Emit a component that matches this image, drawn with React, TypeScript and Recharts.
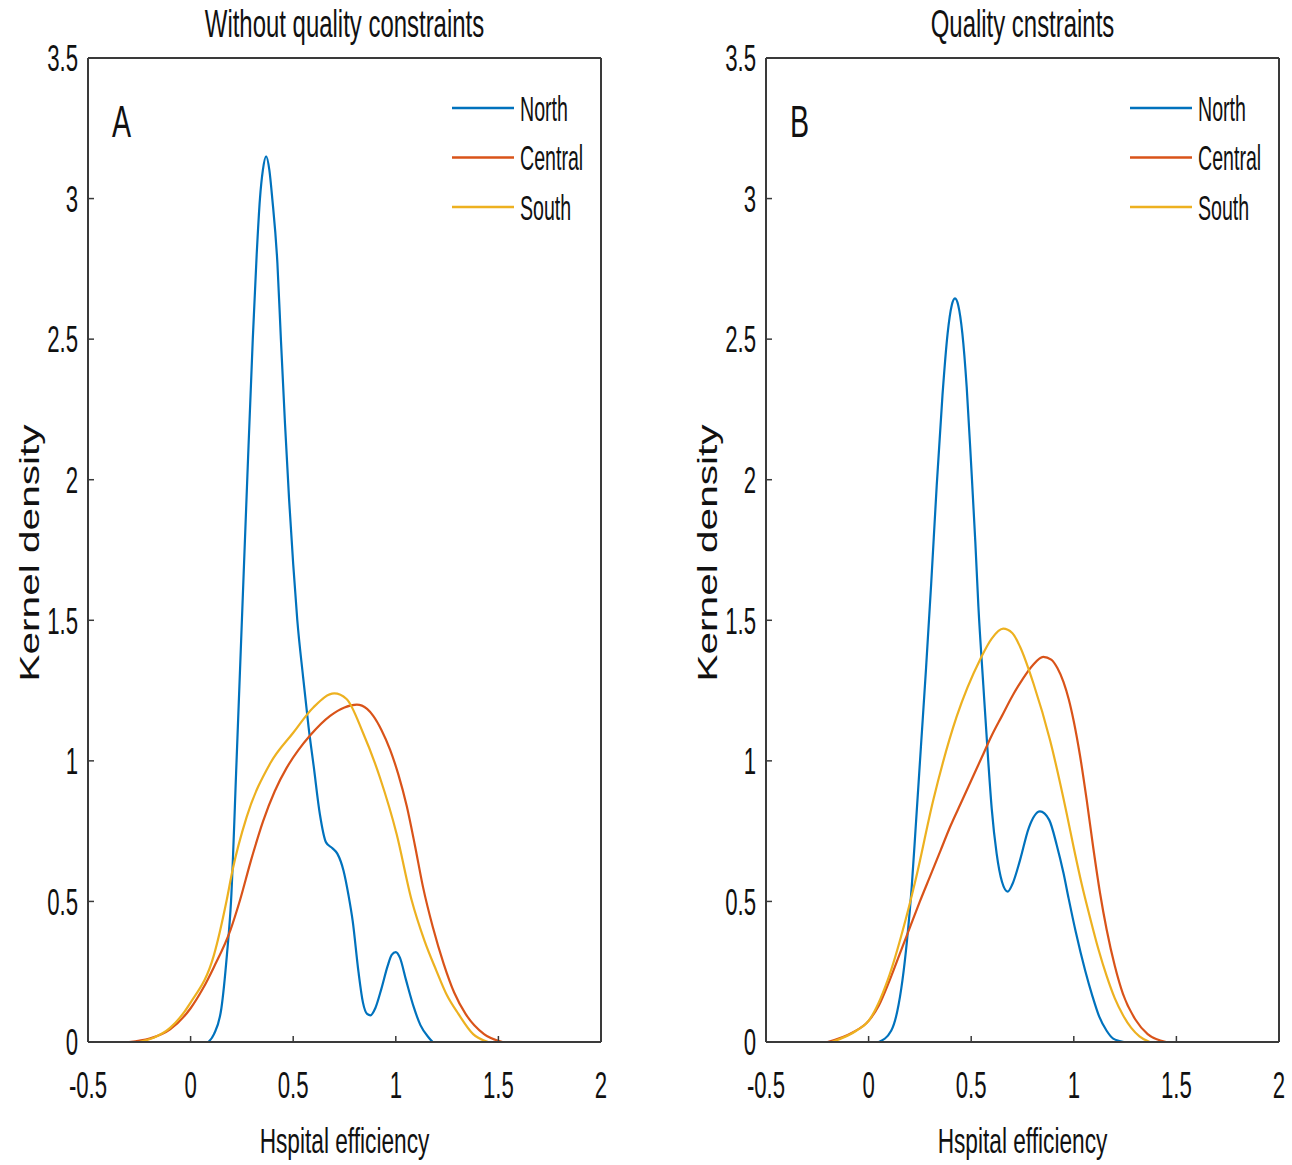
import React from 'react';
import { LineChart, Line, XAxis, YAxis } from 'recharts';

// ---------- axis definitions ----------
const xTicks = [-0.5, 0, 0.5, 1, 1.5, 2];
const yTicks = [0, 0.5, 1, 1.5, 2, 2.5, 3, 3.5];
const xDomain: [number, number] = [-0.5, 2];
const yDomain: [number, number] = [0, 3.5];

const regionNames = ['North', 'Central', 'South'];
const regionColors = ['#0072BD', '#D95319', '#EDB120'];

const panelTitles = ['Without quality constraints', 'Quality cnstraints'];
const panelLetters = ['A', 'B'];
const xLabel = 'Hspital efficiency';
const yLabel = 'Kernel density';

// ---------- series values: [efficiency, density] ----------
const northA: [number, number][] = [
  [0.087, 0], [0.114, 0.028], [0.15, 0.12], [0.177, 0.31], [0.197, 0.5], [0.224, 1.0],
  [0.25, 1.5], [0.276, 2.0], [0.303, 2.5], [0.322, 2.8], [0.338, 3.0], [0.352, 3.1],
  [0.368, 3.15], [0.384, 3.1], [0.398, 3.0], [0.423, 2.77], [0.44, 2.5], [0.46, 2.2],
  [0.48, 1.93], [0.5, 1.7], [0.52, 1.5], [0.548, 1.3], [0.575, 1.12], [0.6, 0.98],
  [0.63, 0.81], [0.66, 0.71], [0.69, 0.69], [0.715, 0.67], [0.745, 0.61], [0.77, 0.52],
  [0.79, 0.43], [0.818, 0.25], [0.84, 0.14], [0.86, 0.1], [0.877, 0.095], [0.9, 0.12],
  [0.93, 0.19], [0.96, 0.27], [0.98, 0.31], [1.0, 0.32], [1.02, 0.3], [1.05, 0.22],
  [1.088, 0.123], [1.12, 0.06], [1.16, 0.016], [1.18, 0],
];
const centralA: [number, number][] = [
  [-0.3, 0], [-0.2, 0.012], [-0.1, 0.045], [0, 0.12], [0.06, 0.19], [0.114, 0.267],
  [0.195, 0.4], [0.241, 0.505], [0.294, 0.645], [0.353, 0.785], [0.41, 0.892], [0.468, 0.975],
  [0.525, 1.038], [0.582, 1.09], [0.68, 1.16], [0.75, 1.19], [0.81, 1.2], [0.86, 1.185],
  [0.89, 1.16], [0.93, 1.11], [0.972, 1.04], [1.013, 0.95], [1.053, 0.84], [1.093, 0.7],
  [1.133, 0.55], [1.18, 0.41], [1.233, 0.279], [1.285, 0.175], [1.34, 0.1], [1.43, 0.028], [1.52, 0],
];
const southA: [number, number][] = [
  [-0.25, 0], [-0.18, 0.015], [-0.1, 0.05], [0, 0.14], [0.114, 0.31], [0.176, 0.505],
  [0.204, 0.61], [0.273, 0.8], [0.387, 0.99], [0.5, 1.1], [0.598, 1.19], [0.7, 1.24],
  [0.76, 1.22], [0.84, 1.1], [0.923, 0.94], [1.004, 0.74], [1.077, 0.505], [1.14, 0.36],
  [1.197, 0.255], [1.25, 0.165], [1.305, 0.1], [1.377, 0.028], [1.45, 0],
];

const northB: [number, number][] = [
  [0.05, 0], [0.11, 0.04], [0.14, 0.11], [0.165, 0.22], [0.187, 0.36], [0.21, 0.55],
  [0.23, 0.77], [0.255, 1.05], [0.28, 1.33], [0.305, 1.63], [0.332, 1.98], [0.36, 2.3],
  [0.385, 2.52], [0.405, 2.62], [0.421, 2.645], [0.437, 2.62], [0.457, 2.52], [0.478, 2.33],
  [0.5, 2.05], [0.52, 1.78], [0.535, 1.55], [0.559, 1.27], [0.583, 1.0], [0.6, 0.83],
  [0.624, 0.67], [0.65, 0.57], [0.678, 0.535], [0.7, 0.56], [0.738, 0.647], [0.78, 0.76],
  [0.835, 0.82], [0.88, 0.79], [0.917, 0.7], [0.95, 0.6], [0.975, 0.51], [1.01, 0.39],
  [1.055, 0.255], [1.09, 0.165], [1.124, 0.09], [1.16, 0.04], [1.192, 0.012], [1.244, 0],
];
const centralB: [number, number][] = [
  [-0.2, 0], [-0.08, 0.033], [0, 0.075], [0.05, 0.13], [0.1, 0.215], [0.15, 0.31],
  [0.2, 0.405], [0.25, 0.5], [0.3, 0.59], [0.35, 0.68], [0.4, 0.77], [0.45, 0.85],
  [0.5, 0.93], [0.55, 1.01], [0.6, 1.09], [0.65, 1.16], [0.7, 1.23], [0.75, 1.29],
  [0.8, 1.34], [0.851, 1.37], [0.89, 1.36], [0.92, 1.33], [0.95, 1.28], [0.975, 1.22],
  [1.0, 1.14], [1.03, 1.02], [1.063, 0.86], [1.095, 0.69], [1.128, 0.529], [1.16, 0.4],
  [1.2, 0.27], [1.24, 0.17], [1.3, 0.08], [1.36, 0.028], [1.45, 0],
];
const southB: [number, number][] = [
  [-0.18, 0], [-0.06, 0.04], [0, 0.075], [0.093, 0.22], [0.18, 0.434], [0.23, 0.58],
  [0.315, 0.86], [0.429, 1.157], [0.543, 1.36], [0.6, 1.435], [0.656, 1.47], [0.7, 1.455],
  [0.738, 1.406], [0.803, 1.276], [0.884, 1.074], [0.965, 0.814], [1.0, 0.69], [1.039, 0.56],
  [1.08, 0.44], [1.12, 0.33], [1.16, 0.235], [1.2, 0.155], [1.24, 0.095], [1.28, 0.05],
  [1.32, 0.02], [1.37, 0],
];

const panelSeries = [
  [northA, centralA, southA],
  [northB, centralB, southB],
];

// ---------- styling ----------
const FONT = "'Liberation Sans', Arial, sans-serif";
const AXIS = '#3a3a3a';
const TEXT = '#111111';
const CHART_W = 640;
const CHART_H = 1165;
const MARGIN = { top: 57, right: 38, bottom: 63, left: 28 };
const SX = 0.6; // condensed text look

const XTick = (props: any) => {
  const { x, y, payload } = props;
  return (
    <g transform={`translate(${x},${y}) scale(${SX},1)`}>
      <text x={0} y={0} dy="0.71em" textAnchor="middle" fontSize={37} fontFamily={FONT} fill={TEXT}>
        {String(payload.value)}
      </text>
    </g>
  );
};

const YTick = (props: any) => {
  const { x, y, payload } = props;
  return (
    <g transform={`translate(${x},${y}) scale(${SX},1)`}>
      <text x={0} y={0} dy="0.36em" textAnchor="end" fontSize={37} fontFamily={FONT} fill={TEXT}>
        {String(payload.value)}
      </text>
    </g>
  );
};

function Panel({ index, left }: { index: number; left: number }) {
  const series = panelSeries[index];
  const plotLeft = MARGIN.left + 60;
  const plotRight = CHART_W - MARGIN.right - 1;
  const cx = (plotLeft + plotRight) / 2;
  return (
    <div style={{ position: 'absolute', left, top: 0, width: CHART_W, height: CHART_H }}>
      <LineChart width={CHART_W} height={CHART_H} margin={MARGIN}>
        <XAxis
          xAxisId="b"
          type="number"
          dataKey="x"
          domain={xDomain}
          ticks={xTicks}
          interval={0}
          allowDataOverflow
          height={60}
          tickSize={-6}
          tickMargin={36}
          tick={<XTick />}
          axisLine={{ stroke: AXIS, strokeWidth: 2 }}
          tickLine={{ stroke: AXIS, strokeWidth: 1.5 }}
        />
        <XAxis
          xAxisId="t"
          orientation="top"
          type="number"
          dataKey="x"
          domain={xDomain}
          ticks={xTicks}
          interval={0}
          allowDataOverflow
          height={1}
          tickSize={-6}
          tick={false}
          axisLine={{ stroke: AXIS, strokeWidth: 2 }}
          tickLine={{ stroke: AXIS, strokeWidth: 1.5 }}
        />
        <YAxis
          yAxisId="l"
          type="number"
          domain={yDomain}
          ticks={yTicks}
          interval={0}
          allowDataOverflow
          width={60}
          tickSize={-6}
          tickMargin={16}
          tick={<YTick />}
          axisLine={{ stroke: AXIS, strokeWidth: 2 }}
          tickLine={{ stroke: AXIS, strokeWidth: 1.5 }}
        />
        <YAxis
          yAxisId="r"
          orientation="right"
          type="number"
          domain={yDomain}
          ticks={yTicks}
          interval={0}
          allowDataOverflow
          width={1}
          tickSize={-6}
          tick={false}
          axisLine={{ stroke: AXIS, strokeWidth: 2 }}
          tickLine={{ stroke: AXIS, strokeWidth: 1.5 }}
        />
        {series.map((pts, i) => (
          <Line
            key={regionNames[i]}
            xAxisId="b"
            yAxisId="l"
            name={regionNames[i]}
            data={pts.map(([x, y]) => ({ x, y }))}
            dataKey="y"
            type="monotone"
            stroke={regionColors[i]}
            strokeWidth={2.2}
            dot={false}
            activeDot={false}
            isAnimationActive={false}
          />
        ))}
      </LineChart>
      <svg
        width={CHART_W}
        height={CHART_H}
        style={{ position: 'absolute', left: 0, top: 0, pointerEvents: 'none' }}
      >
        <g transform={`translate(${cx},37) scale(0.63,1)`}>
          <text textAnchor="middle" fontSize={38} fontFamily={FONT} fill={TEXT}>{panelTitles[index]}</text>
        </g>
        <g transform={`translate(${cx},1153) scale(0.63,1)`}>
          <text textAnchor="middle" fontSize={36} fontFamily={FONT} fill={TEXT}>{xLabel}</text>
        </g>
        <g transform={`translate(29,553) rotate(-90) scale(1.45,1)`}>
          <text textAnchor="middle" dy="0.36em" fontSize={28} fontFamily={FONT} fill={TEXT}>{yLabel}</text>
        </g>
        <g transform={`translate(112,137) scale(0.65,1)`}>
          <text textAnchor="start" fontSize={44} fontFamily={FONT} fill={TEXT}>{panelLetters[index]}</text>
        </g>
        {regionNames.map((name, i) => {
          const y = 108 + i * 49.5;
          return (
            <g key={name}>
              <line x1={452} x2={514} y1={y} y2={y} stroke={regionColors[i]} strokeWidth={2.5} />
              <g transform={`translate(520,${y}) scale(0.56,1)`}>
                <text dy="0.36em" fontSize={35} fontFamily={FONT} fill={TEXT}>{name}</text>
              </g>
            </g>
          );
        })}
      </svg>
    </div>
  );
}

export default function App() {
  return (
    <div style={{ position: 'absolute', left: 0, top: 0, width: 1292, height: 1165, background: '#fff' }}>
      <Panel index={0} left={0} />
      <Panel index={1} left={678} />
    </div>
  );
}
